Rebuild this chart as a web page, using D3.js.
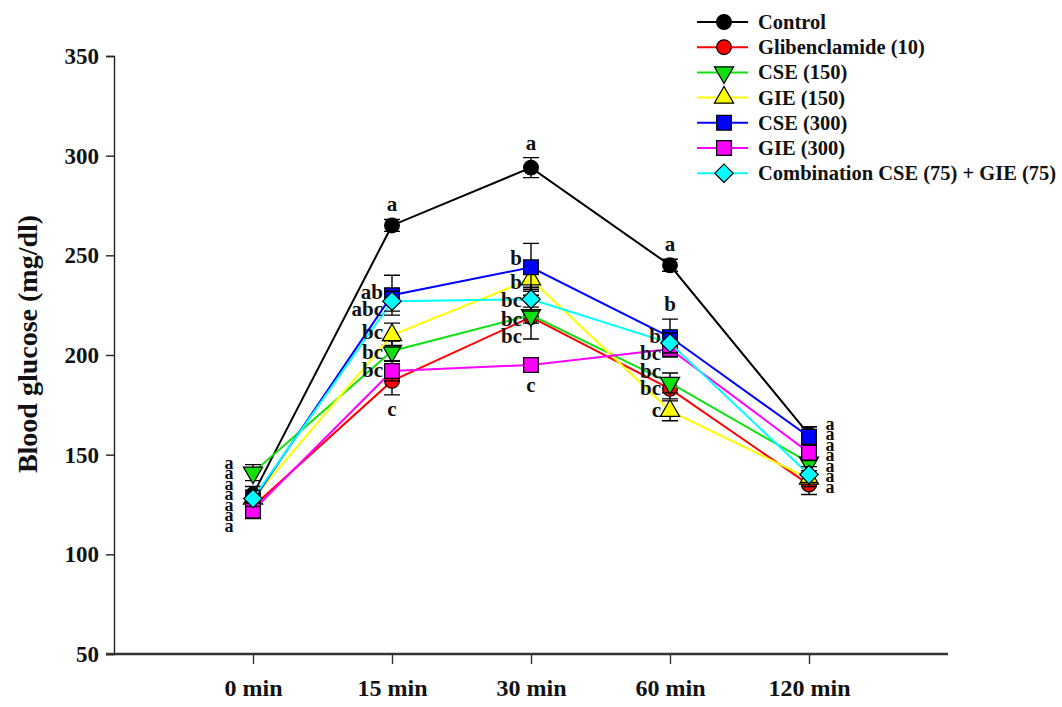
<!DOCTYPE html>
<html>
<head>
<meta charset="utf-8">
<script src="https://cdn.jsdelivr.net/npm/d3@7"></script>
<style>
  html, body { margin: 0; padding: 0; background: #fff; }
  svg text { font-family: "Liberation Serif", "Times New Roman", serif; font-weight: bold; fill: #111; }
</style>
</head>
<body>
<svg id="chart" width="1062" height="707"></svg>
<script>
// Time points
const timeLabels = ["0 min", "15 min", "30 min", "60 min", "120 min"];

// Group names, colours and marker shapes
const seriesNames = ["Control", "Glibenclamide (10)", "CSE (150)", "GIE (150)", "CSE (300)", "GIE (300)", "Combination CSE (75) + GIE (75)"];
const seriesColors = ["#000000", "#ff0000", "#10e010", "#ffff00", "#0000ff", "#ff00ff", "#00ffff"];
const seriesSymbols = ["circle", "circle", "triangleDown", "triangleUp", "square", "square", "diamond"];

// Mean blood glucose (mg/dl) per group
const controlMean   = [130, 265, 294, 245, 160];
const glibenMean    = [124, 187, 219, 183, 135];
const cse150Mean    = [141, 202, 220, 186, 146];
const gie150Mean    = [128, 210, 238, 172, 138];
const cse300Mean    = [127, 230, 244, 209, 159];
const gie300Mean    = [122, 192, 195, 203, 151];
const comboMean     = [128, 227, 228, 206, 140];

// Standard errors
const controlErr = [4, 3, 5, 3, 4];
const glibenErr  = [4, 7, 11, 5, 5];
const cse150Err  = [4, 5, 4, 5, 4];
const gie150Err  = [4, 6, 5, 5, 4];
const cse300Err  = [5, 10, 12, 9, 5];
const gie300Err  = [4, 5, 3, 4, 4];
const comboErr   = [4, 5, 6, 5, 4];

// Significance letters at each time point: [text, group index the letter belongs to]
const letters15 = [["a", 0], ["ab", 4], ["abc", 6], ["bc", 3], ["bc", 2], ["bc", 5], ["c", 1]];
const letters30 = [["a", 0], ["b", 4], ["b", 3], ["bc", 6], ["bc", 2], ["bc", 1], ["c", 5]];
const letters60 = [["a", 0], ["b", 4], ["b", 6], ["bc", 5], ["bc", 2], ["bc", 1], ["c", 3]];
const stackedLetters = ["a", "a", "a", "a", "a", "a", "a"];

const means = [controlMean, glibenMean, cse150Mean, gie150Mean, cse300Mean, gie300Mean, comboMean];
const errs = [controlErr, glibenErr, cse150Err, gie150Err, cse300Err, gie300Err, comboErr];

const yTicks = [50, 100, 150, 200, 250, 300, 350];

const svg = d3.select("#chart");

const x = d3.scaleLinear().domain([-1, 5]).range([114, 948]);
const y = d3.scaleLinear().domain([50, 350]).range([654, 56]);

// Axes
const yAxis = d3.axisLeft(y).tickValues(yTicks).tickSize(8).tickPadding(7);
const gy = svg.append("g").attr("transform", `translate(${x(-1)},0)`).call(yAxis);
gy.select(".domain").attr("stroke", "#222").attr("stroke-width", 1.4);
gy.selectAll(".tick line").attr("stroke", "#222").attr("stroke-width", 1.4);
gy.selectAll(".tick text").style("font-size", "23px").attr("fill", "#111");

const xAxis = d3.axisBottom(x).tickValues(d3.range(timeLabels.length)).tickFormat(i => timeLabels[i]).tickSize(10).tickSizeOuter(0).tickPadding(15);
const gx = svg.append("g").attr("transform", `translate(0,${y(50)})`).call(xAxis);
gx.select(".domain").attr("stroke", "#333").attr("stroke-width", 2.5).attr("d", `M${x(-1) - 8},0H${x(5)}`);
gx.selectAll(".tick line").attr("stroke", "#333").attr("stroke-width", 1.4);
gx.selectAll(".tick text").style("font-size", "24px").attr("fill", "#111");

// Y axis title
svg.append("text")
  .attr("transform", `translate(37,344) rotate(-90)`)
  .attr("text-anchor", "middle")
  .style("font-size", "28px")
  .text("Blood glucose (mg/dl)");

// Marker drawing
const symbolMap = {
  circle: { type: d3.symbolCircle, size: 170, rot: 0 },
  square: { type: d3.symbolSquare, size: 215, rot: 0 },
  diamond: { type: d3.symbolSquare, size: 170, rot: 45 },
  triangleUp: { type: d3.symbolTriangle, size: 160, rot: 0 },
  triangleDown: { type: d3.symbolTriangle, size: 160, rot: 180 }
};
function drawMarker(g, kind, color, cx, cy) {
  const s = symbolMap[kind];
  g.append("path")
    .attr("d", d3.symbol().type(s.type).size(s.size)())
    .attr("transform", `translate(${cx},${cy}) rotate(${s.rot})`)
    .attr("fill", color)
    .attr("stroke", "#000")
    .attr("stroke-width", 1.2);
}

const line = d3.line().x((d, i) => x(i)).y(d => y(d));
const capHalf = 8;

means.forEach((vals, s) => {
  const g = svg.append("g");
  g.append("path")
    .attr("d", line(vals))
    .attr("fill", "none")
    .attr("stroke", seriesColors[s])
    .attr("stroke-width", 2);
  vals.forEach((v, i) => {
    const e = errs[s][i];
    const cx = x(i);
    g.append("path")
      .attr("d", `M${cx},${y(v - e)}V${y(v + e)}M${cx - capHalf},${y(v + e)}H${cx + capHalf}M${cx - capHalf},${y(v - e)}H${cx + capHalf}`)
      .attr("stroke", "#000")
      .attr("stroke-width", 1.4)
      .attr("fill", "none");
    drawMarker(g, seriesSymbols[s], seriesColors[s], cx, y(v));
  });
});

// Letter placement per time point: "above"/"below" the error bar, or to the left with a vertical nudge (px)
const letterLayout = {
  1: [["above", 0], ["left", -2], ["left", 9], ["left", -2], ["left", 2], ["left", 0], ["below", 0]],
  2: [["above", 0], ["left", -8], ["left", 4], ["left", 2], ["left", 5], ["left", 20], ["below", 0]],
  3: [["above", 0], ["above", 0], ["left", -6], ["left", 5], ["left", -11], ["left", 0], ["left", 0]]
};
function placeLetters(list, idx) {
  list.forEach(([txt, s], k) => {
    const [where, nudge] = letterLayout[idx][k];
    const v = means[s][idx], e = errs[s][idx];
    const cx = x(idx);
    let tx = cx, ty, anchor = "middle";
    if (where === "above") { ty = y(v + e) - 8; }
    else if (where === "below") { ty = y(v - e) + 21; }
    else { tx = cx - 9; ty = y(v) + 6 + nudge; anchor = "end"; }
    svg.append("text")
      .attr("x", tx).attr("y", ty)
      .attr("text-anchor", anchor)
      .style("font-size", "21px")
      .text(txt);
  });
}
placeLetters(letters15, 1);
placeLetters(letters30, 2);
placeLetters(letters60, 3);

// Stacked "a" letters beside the baseline and final points
function stack(cx, topY) {
  stackedLetters.forEach((t, k) => {
    svg.append("text")
      .attr("x", cx).attr("y", topY + k * 10.5)
      .attr("text-anchor", "middle")
      .style("font-size", "18px")
      .text(t);
  });
}
stack(x(0) - 24, y(141) - 4);
stack(x(4) + 21, y(163) + 1);

// Legend
const legend = svg.append("g").attr("transform", "translate(697,22)");
seriesNames.forEach((name, s) => {
  const row = legend.append("g").attr("transform", `translate(0,${s * 25.2})`);
  row.append("line").attr("x1", 0).attr("x2", 51).attr("y1", 0).attr("y2", 0)
    .attr("stroke", seriesColors[s]).attr("stroke-width", 2);
  drawMarker(row, seriesSymbols[s], seriesColors[s], 27, 0);
  row.append("text").attr("x", 61).attr("y", 7).style("font-size", "20.5px").text(name);
});
</script>
</body>
</html>
